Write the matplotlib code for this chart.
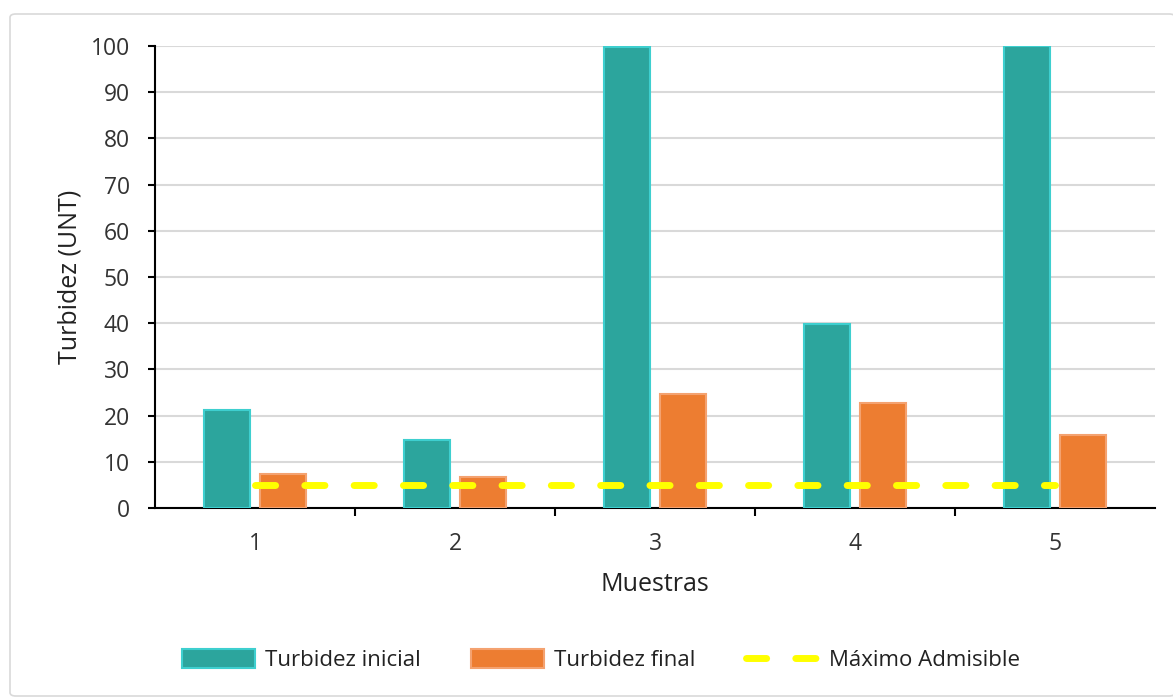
import matplotlib
matplotlib.use("Agg")
import matplotlib.pyplot as plt
from matplotlib.patches import FancyBboxPatch
import numpy as np

categories = ["1", "2", "3", "4", "5"]
turbidez_inicial = [21.2, 14.7, 99.7, 39.8, 100.0]
turbidez_final = [7.4, 6.7, 24.7, 22.7, 15.8]
maximo_admisible = [5, 5, 5, 5, 5]

plt.rcParams['font.family'] = ['Open Sans', 'DejaVu Sans']

fig = plt.figure(figsize=(11.73, 6.98), dpi=100)
border = FancyBboxPatch((10 / 1173, 1 - 696 / 698), 1165 / 1173, 682 / 698,
                        boxstyle="round,pad=0,rounding_size=0.005",
                        transform=fig.transFigure, facecolor="white",
                        edgecolor="#D9D9D9", linewidth=1.2, zorder=-10)
fig.patches.append(border)

ax = fig.add_axes([155 / 1173, 1 - 508 / 698, 1000 / 1173, 462 / 698])
ax.set_facecolor("none")
ax.set_zorder(1)

x = np.arange(1, len(categories) + 1)
w = 0.23
off = 0.142
b1 = ax.bar(x - off, turbidez_inicial, w, color="#2CA59D", edgecolor="#3ECFCF",
            linewidth=1.5, label="Turbidez inicial", zorder=3)
b2 = ax.bar(x + off, turbidez_final, w, color="#ED7D31", edgecolor="#F4A270",
            linewidth=1.5, label="Turbidez final", zorder=3)
l1, = ax.plot(x, maximo_admisible, color="#FFFF00", linewidth=5,
              dashes=(2.9, 4.2), dash_capstyle="round",
              label="Máximo Admisible", zorder=4)

ax.set_xlim(0.5, 5.5)
ax.set_ylim(0, 100)
ax.set_yticks(range(0, 101, 10))
ax.set_xticks(x)
ax.set_xticklabels(categories)
ax.set_xticks(np.arange(1.5, 5.5, 1), minor=True)
ax.tick_params(axis="x", which="major", length=0, pad=17, labelsize=16.5, colors="#333333")
ax.tick_params(axis="x", which="minor", length=6, width=1.5, direction="out", colors="black")
ax.tick_params(axis="y", length=5, width=1.5, direction="out", labelsize=16.5, pad=13,
               labelcolor="#333333")

ax.yaxis.grid(True, color="#D9D9D9", linewidth=1.5, zorder=0)
ax.set_axisbelow(True)
for s in ["top", "right"]:
    ax.spines[s].set_visible(False)
ax.spines["left"].set_linewidth(1.5)
ax.spines["bottom"].set_linewidth(1.5)

ax.set_ylabel("Turbidez (UNT)", fontsize=18, labelpad=6, color="#222222")
ax.set_xlabel("Muestras", fontsize=18, labelpad=12, color="#222222")

fig.legend([b1, b2, l1], ["Turbidez inicial", "Turbidez final", "Máximo Admisible"],
           loc="center", bbox_to_anchor=(601 / 1173, 1 - 660 / 698), ncol=3,
           frameon=False, fontsize=16, handlelength=3.3, handleheight=0.9,
           columnspacing=2.25, handletextpad=0.45, labelcolor="#222222")

fig.savefig("out.png", dpi=100)
